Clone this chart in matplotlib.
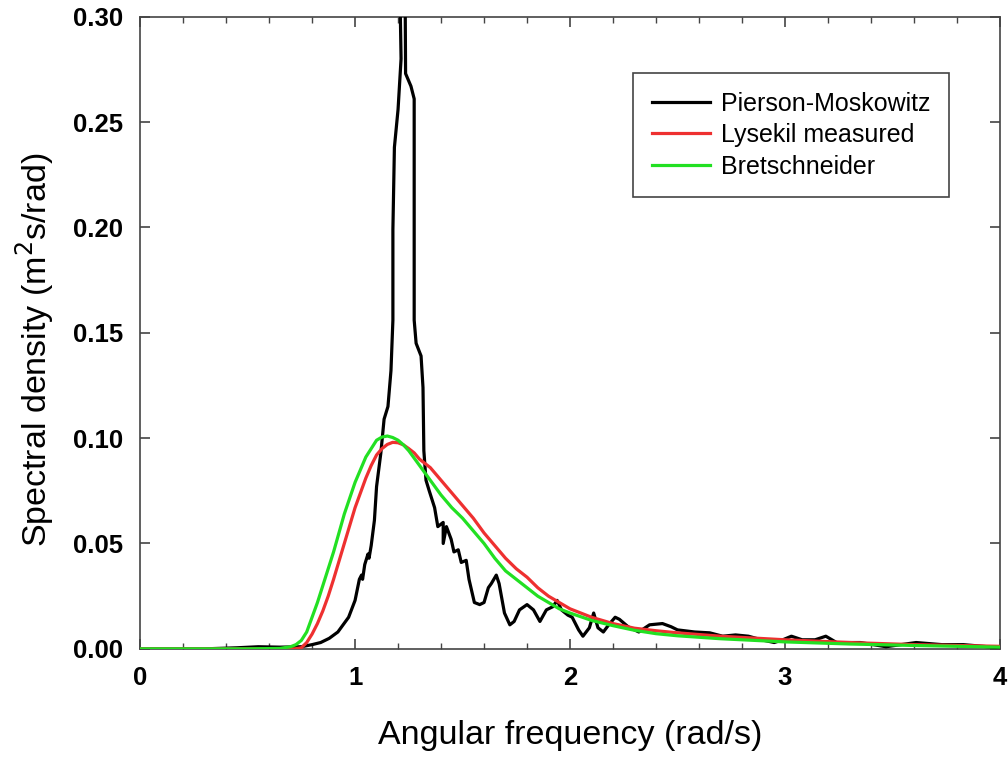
import matplotlib
matplotlib.use('Agg')
import matplotlib.pyplot as plt
from matplotlib.ticker import MultipleLocator

plt.rcParams['font.family'] = ['Liberation Sans', 'DejaVu Sans']

# Pierson-Moskowitz (measured spectrum, noisy)
pm_w = [0.0, 0.30, 0.45, 0.55, 0.65, 0.75, 0.80, 0.84, 0.88, 0.92, 0.97, 1.00,
        1.02, 1.03, 1.035, 1.045, 1.06, 1.065, 1.075, 1.09, 1.10, 1.12, 1.135,
        1.153, 1.167, 1.176, 1.176, 1.183, 1.20, 1.214, 1.209, 1.233, 1.235,
        1.26, 1.275, 1.275, 1.275, 1.284, 1.307, 1.316, 1.32, 1.33, 1.345,
        1.37, 1.385, 1.41, 1.41, 1.425, 1.447, 1.46, 1.48, 1.494, 1.517, 1.53,
        1.555, 1.58, 1.60, 1.62, 1.634, 1.657, 1.67, 1.695, 1.72, 1.74, 1.765,
        1.80, 1.83, 1.86, 1.89, 1.92, 1.94, 1.96, 1.99, 2.01, 2.04, 2.06, 2.09,
        2.11, 2.13, 2.155, 2.18, 2.21, 2.23, 2.27, 2.32, 2.37, 2.43, 2.47, 2.50,
        2.58, 2.65, 2.71, 2.77, 2.83, 2.89, 2.95, 2.99, 3.03, 3.08, 3.14, 3.19,
        3.24, 3.35, 3.47, 3.61, 3.73, 3.83, 4.0]
pm_s = [0.0, 0.0, 0.0005, 0.001, 0.0008, 0.001, 0.002, 0.003, 0.005, 0.008,
        0.015, 0.023, 0.033, 0.035, 0.033, 0.040, 0.045, 0.043, 0.049, 0.061,
        0.077, 0.093, 0.109, 0.115, 0.132, 0.156, 0.199, 0.238, 0.256, 0.280,
        0.310, 0.310, 0.273, 0.267, 0.261, 0.199, 0.156, 0.145, 0.139, 0.124,
        0.094, 0.080, 0.075, 0.067, 0.058, 0.060, 0.050, 0.058, 0.052, 0.046,
        0.047, 0.041, 0.042, 0.033, 0.022, 0.021, 0.022, 0.029, 0.031, 0.035,
        0.031, 0.017, 0.0114, 0.013, 0.0185, 0.021, 0.0185, 0.013, 0.0185,
        0.020, 0.023, 0.0185, 0.016, 0.015, 0.009, 0.006, 0.010, 0.017, 0.010,
        0.008, 0.0114, 0.015, 0.014, 0.0105, 0.008, 0.0114, 0.012, 0.0105,
        0.009, 0.008, 0.0076, 0.006, 0.0066, 0.006, 0.0043, 0.003, 0.0043,
        0.006, 0.0043, 0.0043, 0.006, 0.003, 0.003, 0.001, 0.003, 0.002, 0.002,
        0.0005]

# Lysekil measured
ly_w = [0.0, 0.60, 0.72, 0.75, 0.775, 0.80, 0.825, 0.85, 0.875, 0.90, 0.95,
        1.00, 1.05, 1.075, 1.10, 1.125, 1.15, 1.175, 1.20, 1.225, 1.25, 1.275,
        1.30, 1.35, 1.40, 1.45, 1.50, 1.55, 1.60, 1.65, 1.70, 1.75, 1.80, 1.85,
        1.90, 1.95, 2.00, 2.10, 2.20, 2.30, 2.40, 2.50, 2.70, 3.00, 3.30, 3.60,
        4.00]
ly_s = [0.0, 0.0, 0.0, 0.0005, 0.003, 0.007, 0.012, 0.018, 0.025, 0.033, 0.050,
        0.067, 0.081, 0.087, 0.092, 0.095, 0.097, 0.098, 0.0978, 0.0968, 0.095,
        0.093, 0.090, 0.086, 0.080, 0.074, 0.068, 0.062, 0.055, 0.049, 0.043,
        0.038, 0.034, 0.029, 0.025, 0.022, 0.019, 0.015, 0.012, 0.0098, 0.0086,
        0.0076, 0.006, 0.0043, 0.003, 0.002, 0.0012]

# Bretschneider
br_w = [0.0, 0.50, 0.65, 0.70, 0.725, 0.75, 0.775, 0.80, 0.825, 0.85, 0.90,
        0.95, 1.00, 1.025, 1.05, 1.075, 1.10, 1.125, 1.15, 1.175, 1.20, 1.225,
        1.25, 1.275, 1.30, 1.35, 1.40, 1.45, 1.50, 1.55, 1.60, 1.65, 1.70, 1.75,
        1.80, 1.85, 1.90, 1.95, 2.00, 2.10, 2.20, 2.30, 2.40, 2.50, 2.70, 3.00,
        3.30, 3.60, 4.00]
br_s = [0.0, 0.0, 0.0002, 0.001, 0.002, 0.004, 0.008, 0.015, 0.022, 0.030,
        0.046, 0.064, 0.079, 0.085, 0.091, 0.095, 0.099, 0.1005, 0.101, 0.1003,
        0.099, 0.0968, 0.094, 0.0905, 0.087, 0.080, 0.073, 0.067, 0.062, 0.056,
        0.050, 0.043, 0.037, 0.033, 0.029, 0.025, 0.022, 0.019, 0.017, 0.0135,
        0.011, 0.0088, 0.0072, 0.0062, 0.0048, 0.0033, 0.0023, 0.0016, 0.0008]

fig = plt.figure(figsize=(10.08, 7.58), dpi=100)
ax = fig.add_axes([0.139, 0.144, 0.853, 0.834])

ax.plot(pm_w, pm_s, color='black', lw=2.3, label='Pierson-Moskowitz', zorder=3)
ax.plot(ly_w, ly_s, color='#ee3030', lw=2.3, label='Lysekil measured', zorder=4)
ax.plot(br_w, br_s, color='#22e022', lw=2.3, label='Bretschneider', zorder=5)

ax.set_xlim(0, 4)
ax.set_ylim(0, 0.30)
ax.xaxis.set_major_locator(MultipleLocator(1))
ax.xaxis.set_minor_locator(MultipleLocator(0.2))
ax.yaxis.set_major_locator(MultipleLocator(0.05))
ax.yaxis.set_major_formatter(matplotlib.ticker.FormatStrFormatter('%.2f'))

# ticks inward on all sides
ax.tick_params(which='both', direction='in', top=True, right=True, color='#444444')
ax.tick_params(which='major', length=7, width=1.2, labelsize=18.5, pad=12)
ax.tick_params(which='minor', length=4, width=1.0)
for lab in ax.get_xticklabels() + ax.get_yticklabels():
    lab.set_fontweight('bold')
for sp in ax.spines.values():
    sp.set_color('#444444')
    sp.set_linewidth(1.2)

ax.set_xlabel('Angular frequency (rad/s)', fontsize=24.5, labelpad=22)
ax.set_ylabel('Spectral density (m$^2$s/rad)', fontsize=24.5)
ax.yaxis.set_label_coords(-0.098, 0.473)

leg = ax.legend(loc='upper right', bbox_to_anchor=(0.941, 0.911), borderaxespad=0,
                fontsize=18, fancybox=False, framealpha=1, edgecolor='#444444',
                handlelength=2.3, handletextpad=0.45, borderpad=0.75,
                labelspacing=0.3)
leg.get_frame().set_linewidth(1.2)

plt.savefig('out.png', dpi=100)
